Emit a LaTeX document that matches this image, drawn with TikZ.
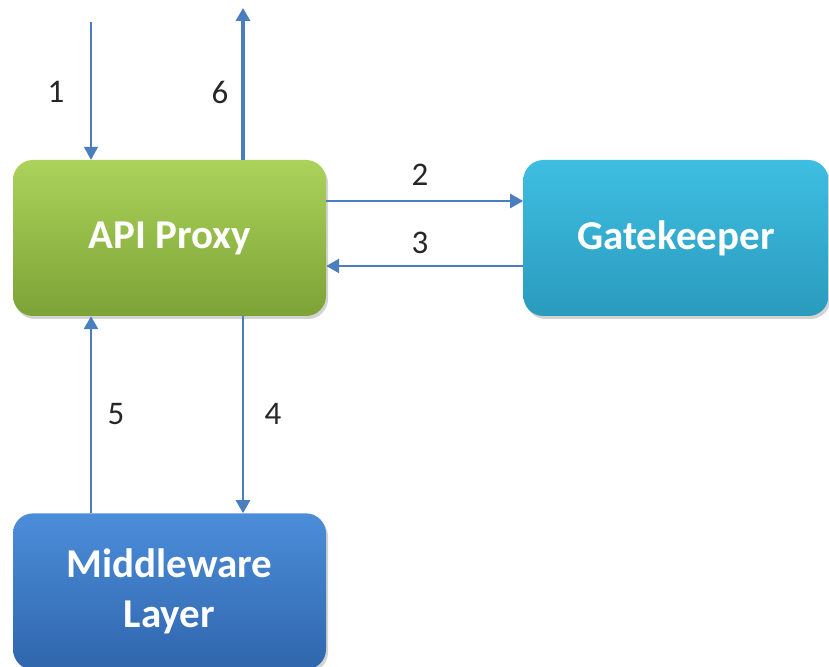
\documentclass[tikz,border=0pt]{standalone}
\usepackage{fontspec}
\setmainfont{Carlito}
\usetikzlibrary{arrows.meta, positioning, shadows}

\definecolor{proxytop}{HTML}{ABD35A}
\definecolor{proxybot}{HTML}{7DA237}
\definecolor{gatetop}{HTML}{3EBEE2}
\definecolor{gatebot}{HTML}{2A9BBD}
\definecolor{midtop}{HTML}{4C8DDA}
\definecolor{midbot}{HTML}{2F66AC}
\definecolor{flowblue}{HTML}{4A7EBF}

\begin{document}
\begin{tikzpicture}[x=1pt, y=1pt, node distance=197pt, auto,
    box/.style={rectangle, rounded corners=20pt, minimum width=313pt, minimum height=156pt,
      text=white, font=\fontsize{41}{50}\selectfont\bfseries, align=center,
      drop shadow={opacity=0.35, shadow xshift=2pt, shadow yshift=-3pt}},
    flow/.style={-{Triangle[length=13pt, width=14pt]}, draw=flowblue, line width=2.6pt},
    lbl/.style={font=\fontsize{33}{40}\selectfont, text=black!85}]
	\useasboundingbox (0,0) rectangle (829,666);
	\node [box, top color=proxytop, bottom color=proxybot] (proxy) at (169.5,428) {API Proxy};
	\node [box, right=of proxy, minimum width=305pt, top color=gatetop, bottom color=gatebot] (gate) {Gatekeeper};
	\node [box, below=of proxy, top color=midtop, bottom color=midbot] (mid) {Middleware\\Layer};
	
	\coordinate (in) at (91,644);
	\coordinate (out) at (243,658);
	
	\path
	(in) edge [flow, line width=1.8pt] (in |- proxy.north)
	(proxy.north -| out) edge [flow, line width=3.4pt] (out)
	([yshift=37pt]proxy.east) edge [flow] ([yshift=37pt]gate.west)
	([yshift=-28pt]gate.west) edge [flow] ([yshift=-28pt]proxy.east)
	(proxy.south -| out) edge [flow] (mid.north -| out)
	(mid.north -| in) edge [flow] (proxy.south -| in);
	
	\node [lbl] (n1) at (56,574) {1};
	\node [lbl] (n6) at (220,574) {6};
	\node [lbl] (n2) at (420,491) {2};
	\node [lbl] (n3) at (420,423) {3};
	\node [lbl] (n5) at (116,252) {5};
	\node [lbl] (n4) at (273,252) {4};
\end{tikzpicture}
\end{document}
